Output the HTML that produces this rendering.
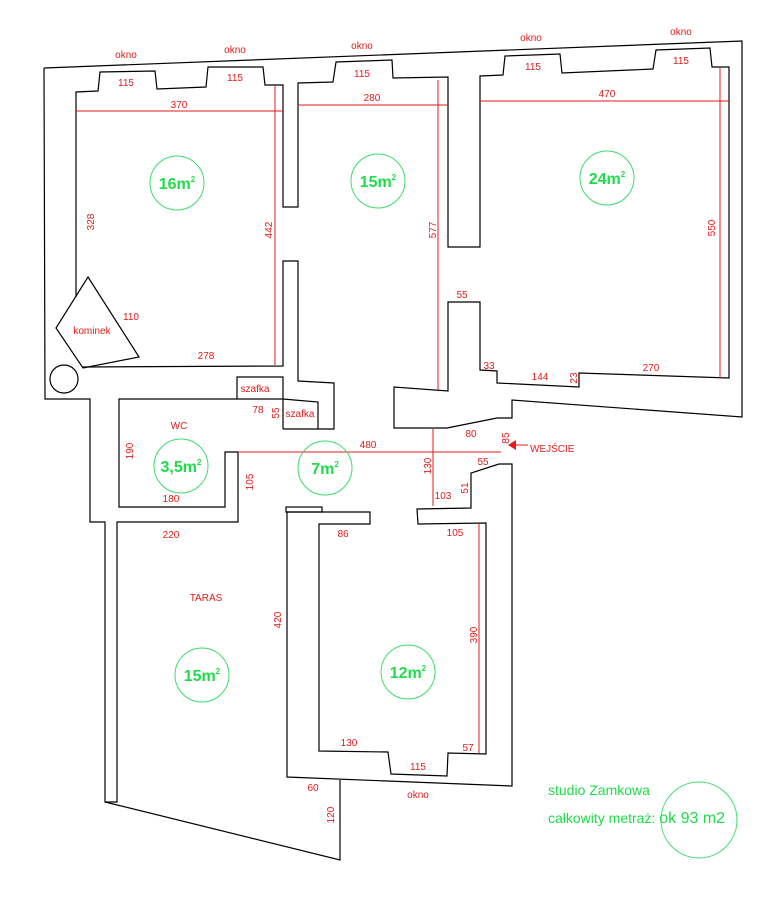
<!DOCTYPE html>
<html><head><meta charset="utf-8"><style>
html,body{margin:0;padding:0;background:#fff;}
svg{display:block;}
text{font-family:"Liberation Sans Narrow","Liberation Sans",sans-serif;}
.r{fill:#e21b1b;font-size:10px;}
.g{fill:#1fdc4a;}
</style></head><body>
<svg width="780" height="900" viewBox="0 0 780 900" xmlns="http://www.w3.org/2000/svg">
<g fill="none" stroke="#000" stroke-width="1.2">
<polyline points="44,68 742,41 742,417 512,400 512,418 497,418 447,428 394,428 394,387 448,391 448,302 480,302 480,370 497,371 497,383 579,387 579,373 729,378 729,67 712,67 710,48 656,50 653,69 562,73 560,54 505,56 503,75 480,76 480,247 448,247 448,77 393,78 392,60 336,62 333,82 298,83 298,207 283,207 283,85 265,85 263,67 208,67 206,87 157,89 155,71 100,72 98,91 76,92 76,297"/>
<polyline points="44,68 45,399 90,399 90,522 105,522 105,802 117,802 117,522 238,522 238,452 225,452 225,507 119,507 119,399 237,399"/>
<polyline points="105,802 340,860 340,780"/>
<polygon points="88,277 139,357 83,368 56,328"/>
<polyline points="83,367 283,366 283,261 298,261 298,381 334,383 334,429 283,429"/>
<polyline points="237,399 237,377 283,377 283,429"/>
<polyline points="237,399 283,399 318,402 318,429"/>
<circle cx="64" cy="379" r="14"/>
<polyline points="499,464 512,464 512,786 287,777 287,512 370,512 370,524 319,524 319,751 388,752 391,774 447,776 448,753 486,754 486,523 418,524 417,509 471,508 471,473 499,464"/>
<rect x="286" y="507" width="36" height="5"/>
</g>
<g stroke="#e21b1b" stroke-width="1">
<line x1="76" y1="111" x2="283" y2="111"/>
<line x1="275" y1="86" x2="275" y2="365"/>
<line x1="298" y1="105" x2="448" y2="105"/>
<line x1="438" y1="80" x2="438" y2="390"/>
<line x1="480" y1="101" x2="729" y2="101"/>
<line x1="720" y1="67" x2="720" y2="378"/>
<line x1="238" y1="452" x2="501" y2="452"/>
<line x1="433" y1="429" x2="433" y2="506"/>
<line x1="479" y1="524" x2="479" y2="753"/>
<line x1="514" y1="445" x2="528" y2="445"/>
</g>
<polygon points="508,445 516,440 516,450" fill="#e21b1b"/>
<g class="r" text-anchor="middle">
<text x="126" y="58">okno</text><text x="235" y="53">okno</text><text x="362" y="49">okno</text><text x="531" y="41">okno</text><text x="681" y="35">okno</text><text x="418" y="798">okno</text>
<text x="126" y="86">115</text><text x="235" y="81">115</text><text x="362" y="77">115</text><text x="533" y="70">115</text><text x="681" y="64">115</text><text x="418" y="770">115</text>
<text x="179" y="108">370</text><text x="372" y="101">280</text><text x="607" y="97">470</text>
<text x="131" y="320">110</text><text x="92" y="334">kominek</text><text x="206" y="359">278</text>
<text x="462" y="298">55</text><text x="489" y="369">33</text><text x="540" y="380">144</text><text x="651" y="371">270</text>
<text x="255" y="392">szafka</text><text x="258" y="413">78</text><text x="300" y="417">szafka</text>
<text x="179" y="429">WC</text><text x="368" y="448">480</text><text x="471" y="437">80</text>
<text x="483" y="465">55</text><text x="443" y="499">103</text><text x="171" y="502">180</text><text x="171" y="538">220</text>
<text x="343" y="537">86</text><text x="455" y="536">105</text><text x="206" y="601">TARAS</text>
<text x="349" y="746">130</text><text x="468" y="751">57</text><text x="313" y="791">60</text>
</g>
<g class="r" text-anchor="middle">
<text transform="translate(94,222) rotate(-90)">328</text>
<text transform="translate(272,230) rotate(-90)">442</text>
<text transform="translate(436,230) rotate(-90)">577</text>
<text transform="translate(715,228) rotate(-90)">550</text>
<text transform="translate(577,378) rotate(-90)">23</text>
<text transform="translate(279,413) rotate(-90)">55</text>
<text transform="translate(133,451) rotate(-90)">190</text>
<text transform="translate(509,438) rotate(-90)">85</text>
<text transform="translate(431,466) rotate(-90)">130</text>
<text transform="translate(253,482) rotate(-90)">105</text>
<text transform="translate(468,488) rotate(-90)">51</text>
<text transform="translate(281,620) rotate(-90)">420</text>
<text transform="translate(477,635) rotate(-90)">390</text>
<text transform="translate(334,815) rotate(-90)">120</text>
</g>
<text x="530" y="452" class="r" font-size="11">WEJŚCIE</text>
<g fill="none" stroke="#3ddc6a" stroke-width="1">
<circle cx="177" cy="183" r="27"/><circle cx="378" cy="181" r="27"/><circle cx="607" cy="178" r="27"/>
<circle cx="181" cy="466" r="27"/><circle cx="325" cy="468" r="27"/><circle cx="202" cy="675" r="27"/>
<circle cx="408" cy="672" r="27"/><circle cx="699" cy="820" r="38"/>
</g>
<g class="g" font-size="16" font-weight="bold" text-anchor="middle">
<text x="177" y="189">16m<tspan font-size="8" dy="-7">2</tspan></text>
<text x="378" y="187">15m<tspan font-size="8" dy="-7">2</tspan></text>
<text x="607" y="184">24m<tspan font-size="8" dy="-7">2</tspan></text>
<text x="181" y="472">3,5m<tspan font-size="8" dy="-7">2</tspan></text>
<text x="325" y="474">7m<tspan font-size="8" dy="-7">2</tspan></text>
<text x="202" y="681">15m<tspan font-size="8" dy="-7">2</tspan></text>
<text x="408" y="678">12m<tspan font-size="8" dy="-7">2</tspan></text>
</g>
<text x="548" y="795" class="g" font-size="14">studio Zamkowa</text>
<text x="548" y="823" class="g" font-size="14">całkowity metraż: <tspan font-size="16">ok 93 m2</tspan></text>
</svg>
</body></html>
